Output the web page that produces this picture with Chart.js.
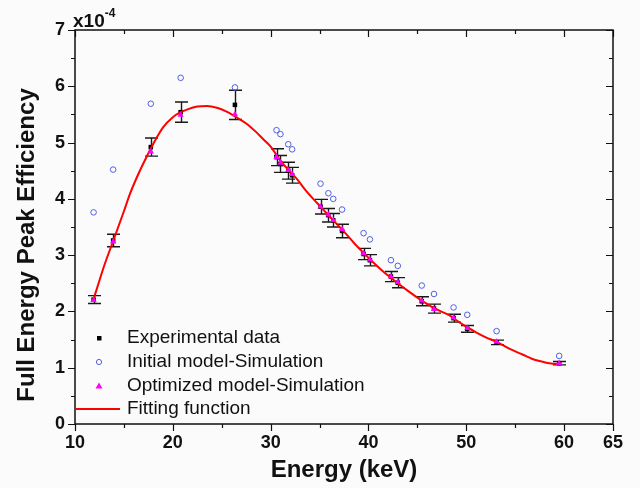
<!DOCTYPE html>
<html><head><meta charset="utf-8">
<script src="https://cdn.jsdelivr.net/npm/chart.js@4"></script>
<style>html,body{margin:0;padding:0;background:#fbfbfb}#wrap{width:640px;height:488px}</style>
</head><body><div id="wrap"><canvas id="c" width="640" height="488"></canvas></div>
<script>
// Values in units of 1e-4
const energies = [11.9,13.9,17.75,20.8,26.35,30.6,31.0,31.8,32.2,35.1,35.9,36.4,37.3,39.5,40.15,42.3,43.0,45.45,46.7,48.7,50.1,53.1,59.5];
const expEff   = [2.21,3.26,4.92,5.54,5.67,4.74,4.62,4.50,4.42,3.86,3.71,3.62,3.43,3.02,2.91,2.62,2.51,2.18,2.05,1.88,1.69,1.45,1.08];
const expErr   = [0.07,0.11,0.16,0.18,0.26,0.15,0.15,0.15,0.14,0.13,0.12,0.12,0.12,0.10,0.10,0.09,0.09,0.08,0.08,0.07,0.06,0.04,0.03];
const initEff  = [3.76,4.52,5.69,6.15,5.98,5.22,5.15,4.97,4.88,4.27,4.10,4.00,3.81,3.39,3.28,2.91,2.81,2.46,2.31,2.07,1.94,1.65,1.21];
const optEff   = [2.20,3.24,4.84,5.49,5.50,4.74,4.64,4.51,4.44,3.86,3.72,3.62,3.46,3.03,2.92,2.62,2.52,2.19,2.04,1.89,1.70,1.46,1.08];
const fitEnergy = [11.9,12.5,13.0,13.9,15.0,15.6,16.5,17.3,18.2,19.0,20.0,20.7,21.5,22.5,23.5,24.5,25.5,26.5,27.5,28.5,29.3,30.0,31.0,32.0,32.7,33.5,34.4,35.0,36.0,37.0,38.0,38.5,39.5,40.5,41.9,43.0,44.0,45.3,46.3,47.3,48.3,48.7,49.7,51.0,52.0,53.1,54.5,55.8,56.7,57.5,58.5,59.2,59.7];
const fitEff    = [2.22,2.55,2.82,3.25,3.78,4.08,4.45,4.74,5.04,5.27,5.45,5.53,5.59,5.64,5.65,5.62,5.55,5.45,5.34,5.19,5.05,4.93,4.68,4.48,4.35,4.17,3.99,3.88,3.69,3.51,3.32,3.22,3.04,2.87,2.65,2.50,2.37,2.21,2.10,2.01,1.93,1.88,1.76,1.63,1.54,1.46,1.33,1.23,1.16,1.12,1.08,1.066,1.065];
const xTicks = [10,20,30,40,50,60,65];
const xMinor = [15,25,35,45,55];
const yTicks = [0,1,2,3,4,5,6,7];
const yMinor = [0.5,1.5,2.5,3.5,4.5,5.5,6.5];
const labels = ['Experimental data','Initial model-Simulation','Optimized model-Simulation','Fitting function'];
const xTitle = 'Energy (keV)';
const yTitle = 'Full Energy Peak Efficiency';

const FONT = 'Arial, "Liberation Sans", sans-serif';
const BLUE = '#4f5fe6', MAG = '#ff00ff', RED = '#ff0000';

const pts = (xs, ys) => xs.map((x,i)=>({x, y: ys[i]}));

const deco = {
  id: 'deco',
  beforeDatasetsDraw(chart){
    const {ctx, scales:{x,y}} = chart;
    ctx.save(); ctx.strokeStyle = '#1a1a1a'; ctx.lineWidth = 1.4;
    energies.forEach((e,i)=>{
      const px = Math.round(x.getPixelForValue(e))+0.5;
      const y1 = y.getPixelForValue(expEff[i]-expErr[i]);
      const y2 = y.getPixelForValue(expEff[i]+expErr[i]);
      ctx.beginPath();
      ctx.moveTo(px,y1); ctx.lineTo(px,y2);
      ctx.moveTo(px-6.5,y1); ctx.lineTo(px+6.5,y1);
      ctx.moveTo(px-6.5,y2); ctx.lineTo(px+6.5,y2);
      ctx.stroke();
    });
    ctx.restore();
  },
  afterDraw(chart){
    const {ctx, chartArea:a, scales:{x,y}} = chart;
    ctx.save();
    ctx.strokeStyle = '#111'; ctx.lineWidth = 1.5;
    ctx.strokeRect(a.left, a.top, a.right-a.left, a.bottom-a.top);
    ctx.lineWidth = 1.2;
    ctx.beginPath();
    const tk = (vals, len) => {
      vals.forEach(v=>{
        const px = Math.round(x.getPixelForValue(v))+0.5;
        ctx.moveTo(px, a.bottom); ctx.lineTo(px, a.bottom+len);
        ctx.moveTo(px, a.top); ctx.lineTo(px, a.top+len);
      });
    };
    const tky = (vals, len) => {
      vals.forEach(v=>{
        const py = Math.round(y.getPixelForValue(v))+0.5;
        ctx.moveTo(a.left, py); ctx.lineTo(a.left-len, py);
        ctx.moveTo(a.right, py); ctx.lineTo(a.right-len, py);
      });
    };
    tk(xTicks,7); tk(xMinor,4); tky(yTicks,7); tky(yMinor,4);
    ctx.stroke();

    // multiplier
    ctx.fillStyle = '#111';
    ctx.font = 'bold 19px ' + FONT;
    ctx.textBaseline = 'alphabetic'; ctx.textAlign = 'left';
    ctx.fillText('x10', a.left-2, a.top-3);
    const w = ctx.measureText('x10').width;
    ctx.font = 'bold 12px ' + FONT;
    ctx.fillText('-4', a.left-2+w, a.top-13);

    // y title
    ctx.save();
    ctx.translate(27, 245);
    ctx.rotate(-Math.PI/2);
    ctx.font = 'bold 24px ' + FONT;
    ctx.textAlign = 'center'; ctx.textBaseline = 'middle';
    ctx.fillText(yTitle, 0, 0);
    ctx.restore();

    // legend
    const rows = [338, 362, 386, 409];
    ctx.font = '19px ' + FONT;
    ctx.textAlign = 'left'; ctx.textBaseline = 'middle';
    ctx.fillStyle = '#000';
    ctx.fillRect(97, rows[0]-2, 4.5, 4.5);
    ctx.strokeStyle = BLUE; ctx.lineWidth = 1;
    ctx.beginPath(); ctx.arc(99, rows[1], 2.6, 0, Math.PI*2); ctx.stroke();
    ctx.fillStyle = MAG;
    ctx.beginPath(); ctx.moveTo(99, rows[2]-3.5); ctx.lineTo(102.5, rows[2]+2.5); ctx.lineTo(95.5, rows[2]+2.5); ctx.closePath(); ctx.fill();
    ctx.strokeStyle = RED; ctx.lineWidth = 2;
    ctx.beginPath(); ctx.moveTo(a.left+1, rows[3]); ctx.lineTo(120, rows[3]); ctx.stroke();
    ctx.fillStyle = '#111';
    labels.forEach((t,i)=> ctx.fillText(t, 127, rows[i]));
    ctx.restore();
  }
};

new Chart(document.getElementById('c'), {
  type: 'scatter',
  data: {
    datasets: [
      { label: labels[0], data: pts(energies, expEff), pointStyle: 'rect', pointRadius: 3.2, backgroundColor: '#000', borderColor: '#000', borderWidth: 0, order: 3 },
      { label: labels[1], data: pts(energies, initEff), pointStyle: 'circle', pointRadius: 2.8, backgroundColor: 'rgba(0,0,0,0)', borderColor: BLUE, borderWidth: 1, order: 4 },
      { label: labels[2], data: pts(energies, optEff), pointStyle: 'triangle', pointRadius: 3.6, backgroundColor: MAG, borderColor: MAG, borderWidth: 0, order: 1 },
      { label: labels[3], type: 'line', data: pts(fitEnergy, fitEff), showLine: true, pointRadius: 0, borderColor: RED, borderWidth: 2, cubicInterpolationMode: 'monotone', fill: false, order: 2 }
    ]
  },
  options: {
    responsive: false, animation: false, devicePixelRatio: 1,
    layout: { padding: { top: 30, right: 27, left: 0, bottom: 0 } },
    plugins: { legend: { display: false }, tooltip: { enabled: false } },
    scales: {
      x: {
        type: 'linear', min: 10, max: 65,
        afterFit: s => { s.height = 64; },
        afterBuildTicks: s => { s.ticks = xTicks.map(v=>({value:v})); },
        grid: { display: true, drawOnChartArea: false, drawTicks: true, tickLength: 7, color: 'rgba(0,0,0,0)' },
        border: { display: false },
        ticks: { color: '#111', font: { family: FONT, size: 18, weight: 'bold' }, padding: 1, maxRotation: 0, autoSkip: false },
        title: { display: true, text: xTitle, color: '#111', font: { family: FONT, size: 24, weight: 'bold' }, padding: { top: 0, bottom: 3 } }
      },
      y: {
        type: 'linear', min: 0, max: 7,
        afterFit: s => { s.width = 75; },
        afterBuildTicks: s => { s.ticks = yTicks.map(v=>({value:v})); },
        grid: { display: true, drawOnChartArea: false, drawTicks: true, tickLength: 7, color: 'rgba(0,0,0,0)' },
        border: { display: false },
        ticks: { color: '#111', font: { family: FONT, size: 18, weight: 'bold' }, padding: 3 }
      }
    }
  },
  plugins: [deco]
});
</script>
</body></html>
